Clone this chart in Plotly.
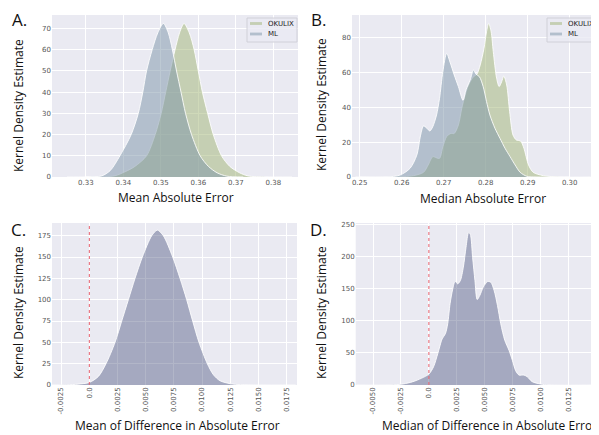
import plotly.graph_objects as go

# ---------------- data ----------------
# Panel A: Mean Absolute Error KDE
a_okulix_x = [0.3300, 0.3350, 0.3378, 0.3405, 0.3431, 0.3462, 0.3485, 0.3501, 0.3513, 0.3525,
              0.3538, 0.3550, 0.3562, 0.3576, 0.3589, 0.3600, 0.3611, 0.3625, 0.3640, 0.3662,
              0.3684, 0.3710, 0.3733, 0.3780, 0.3850]
a_okulix_y = [0.0, 0.1, 0.6, 2.5, 5.0, 10.0, 20.0, 30.0, 40.0, 50.0,
              60.0, 68.0, 72.4, 68.0, 60.0, 50.0, 40.0, 30.0, 20.0, 10.0,
              5.0, 2.0, 0.5, 0.05, 0.0]
a_ml_x = [0.3250, 0.3300, 0.3342, 0.3365, 0.3391, 0.3421, 0.3440, 0.3452, 0.3462, 0.3477,
          0.3492, 0.3507, 0.3520, 0.3531, 0.3542, 0.3554, 0.3566, 0.3582, 0.3605, 0.3627,
          0.3650, 0.3676, 0.3720]
a_ml_y = [0.0, 0.05, 0.5, 3.0, 10.0, 20.0, 30.0, 40.0, 50.0, 60.0,
          68.0, 72.4, 68.0, 60.0, 50.0, 40.0, 30.0, 20.0, 10.0, 5.0,
          2.0, 0.4, 0.0]

# Panel B: Median Absolute Error KDE
b_okulix_x = [0.2500, 0.2580, 0.2628, 0.2652, 0.2663, 0.2674, 0.2682, 0.2690, 0.2698, 0.2707,
              0.2717, 0.2725, 0.2735, 0.2743, 0.2751, 0.2759, 0.2771, 0.2779, 0.2787, 0.2796,
              0.2802, 0.2807, 0.2813, 0.2818, 0.2826, 0.2832, 0.2838, 0.2843, 0.2850, 0.2857,
              0.2865, 0.2873, 0.2883, 0.2891, 0.2902, 0.2913, 0.2937, 0.2977, 0.3050]
b_okulix_y = [0.0, 0.0, 0.8, 2.7, 6.9, 11.7, 11.1, 10.7, 17.4, 23.2,
              25.0, 25.0, 29.9, 39.4, 47.0, 52.8, 57.6, 59.0, 64.3, 73.9,
              83.4, 88.2, 83.4, 72.0, 56.7, 51.9, 54.7, 58.0, 52.8, 37.5,
              24.1, 21.2, 20.7, 16.5, 6.9, 2.7, 0.8, 0.0, 0.0]
b_ml_x = [0.2490, 0.2564, 0.2596, 0.2620, 0.2636, 0.2645, 0.2652, 0.2660, 0.2667, 0.2674,
          0.2683, 0.2690, 0.2698, 0.2707, 0.2715, 0.2725, 0.2735, 0.2746, 0.2753, 0.2763,
          0.2771, 0.2777, 0.2785, 0.2794, 0.2802, 0.2810, 0.2822, 0.2834, 0.2846, 0.2858,
          0.2870, 0.2882, 0.2898, 0.2920, 0.3000]
b_ml_y = [0.0, 0.0, 1.1, 5.0, 12.6, 24.0, 29.3, 28.0, 26.4, 28.9,
          35.6, 45.0, 60.5, 71.0, 66.0, 58.6, 51.9, 44.0, 50.0, 55.7,
          61.4, 59.0, 57.6, 51.9, 43.3, 35.6, 28.0, 22.2, 16.5, 11.7,
          6.9, 2.7, 0.4, 0.0, 0.0]

# Panel C: Mean of Difference in Absolute Error KDE
c_x = [-0.0034, -0.0020, -0.0010, 0.0000, 0.0008, 0.00148, 0.00228, 0.00287, 0.00346, 0.00405,
       0.00470, 0.00553, 0.00603, 0.00656, 0.00739, 0.00804, 0.00863, 0.00916, 0.00972, 0.01046,
       0.01100, 0.01158, 0.01250, 0.01340, 0.01500, 0.01830]
c_y = [0.0, 0.2, 1.0, 3.0, 10.0, 25.0, 50.0, 75.0, 100.0, 125.0,
       150.0, 175.0, 181.6, 175.0, 150.0, 125.0, 100.0, 75.0, 50.0, 25.0,
       12.0, 5.0, 1.5, 0.4, 0.0, 0.0]

# Panel D: Median of Difference in Absolute Error KDE
d_x = [-0.0065, -0.0035, -0.00232, -0.00143, -0.00068, 0.0, 0.00042, 0.00080, 0.00119, 0.00148,
       0.00169, 0.00190, 0.00214, 0.00235, 0.00258, 0.00282, 0.00309, 0.00333, 0.00356, 0.00371,
       0.00392, 0.00413, 0.00433, 0.00457, 0.00487, 0.00526, 0.00555, 0.00585, 0.00615, 0.00644,
       0.00680, 0.00718, 0.00748, 0.00778, 0.00808, 0.00852, 0.00882, 0.00926, 0.01000, 0.01075,
       0.01500]
d_y = [0.0, 0.0, 1.6, 5.2, 10.4, 17.0, 28.5, 49.0, 72.0, 80.0,
       95.8, 127.0, 150.0, 162.0, 158.0, 163.0, 184.0, 215.0, 238.0, 235.5,
       199.0, 163.0, 133.5, 140.0, 152.7, 161.5, 160.5, 147.5, 124.0, 95.8,
       70.0, 54.3, 38.8, 22.3, 15.5, 15.5, 12.9, 5.2, 1.6, 0.0,
       0.0]

zero_reference = 0.0
legend_names = ["OKULIX", "ML"]

# tick labels
a_xticks = [0.33, 0.34, 0.35, 0.36, 0.37, 0.38]
a_xtext = ["0.33", "0.34", "0.35", "0.36", "0.37", "0.38"]
a_yticks = [0, 10, 20, 30, 40, 50, 60, 70]
b_xticks = [0.25, 0.26, 0.27, 0.28, 0.29, 0.30]
b_xtext = ["0.25", "0.26", "0.27", "0.28", "0.29", "0.30"]
b_yticks = [0, 20, 40, 60, 80]
c_xticks = [-0.0025, 0.0, 0.0025, 0.005, 0.0075, 0.01, 0.0125, 0.015, 0.0175]
c_xtext = ["-0.0025", "0.0", "0.0025", "0.0050", "0.0075", "0.0100", "0.0125", "0.0150", "0.0175"]
c_yticks = [0, 25, 50, 75, 100, 125, 150, 175]
d_xticks = [-0.005, -0.0025, 0.0, 0.0025, 0.005, 0.0075, 0.01, 0.0125, 0.015]
d_xtext = ["-0.0050", "-0.0025", "0.0", "0.0025", "0.0050", "0.0075", "0.0100", "0.0125", "0.0150"]
d_yticks = [0, 50, 100, 150, 200, 250]

# ---------------- styling ----------------
PAGE_W, PAGE_H = 599, 435
OFF = 8  # default page body margin of the html page
W, H = PAGE_W - OFF, PAGE_H - OFF
BG = "#EAEAF2"
OK_FILL = "rgba(160,180,116,0.5)"
ML_FILL = "rgba(124,148,168,0.5)"
DIFF_FILL = "rgba(62,72,117,0.4)"
EDGE = "rgba(255,255,255,0.85)"
TICKFONT = dict(family="DejaVu Sans", size=7, color="#555555")


def px_x(p):
    return (p - OFF) / W


def px_y(p):
    return 1 - (p - OFF) / H


fig = go.Figure()

def add_kde(x, y, fill, name, xa, ya):
    fig.add_trace(go.Scatter(
        x=x, y=y, mode="lines", fill="tozeroy", fillcolor=fill,
        line=dict(color=EDGE, width=1, shape="spline", smoothing=0.8),
        name=name, showlegend=False, xaxis=xa, yaxis=ya,
        hoverinfo="skip"))

add_kde(a_okulix_x, a_okulix_y, OK_FILL, legend_names[0], "x", "y")
add_kde(a_ml_x, a_ml_y, ML_FILL, legend_names[1], "x", "y")
add_kde(b_okulix_x, b_okulix_y, OK_FILL, legend_names[0], "x2", "y2")
add_kde(b_ml_x, b_ml_y, ML_FILL, legend_names[1], "x2", "y2")
add_kde(c_x, c_y, DIFF_FILL, "diff", "x3", "y3")
add_kde(d_x, d_y, DIFF_FILL, "diff", "x4", "y4")

# plot area geometry in page pixels
areas = {
    "1": dict(x0=52, x1=298, y0=15, y1=177),
    "2": dict(x0=352, x1=597, y0=15, y1=177),
    "3": dict(x0=52, x1=297, y0=223, y1=385),
    "4": dict(x0=355.7, x1=599, y0=223, y1=385),
}
ranges = {
    "1": ([0.32099, 0.38659], [0, 76.4]),
    "2": ([0.24817, 0.3065], [0, 93.0]),
    "3": ([-0.00331, 0.01841], [0, 189.9]),
    "4": ([-0.00656, 0.01525], [0, 253.0]),
}
xt = {"1": (a_xticks, a_xtext, 0), "2": (b_xticks, b_xtext, 0),
      "3": (c_xticks, c_xtext, -90), "4": (d_xticks, d_xtext, -90)}
yt = {"1": a_yticks, "2": b_yticks, "3": c_yticks, "4": d_yticks}

layout = {}
for k, a in areas.items():
    sx = "" if k == "1" else k
    xr, yr = ranges[k]
    tv, tt, ang = xt[k]
    layout["xaxis" + sx] = dict(
        domain=[px_x(a["x0"]), min(1.0, px_x(a["x1"]))], range=xr,
        anchor="y" + sx, tickvals=tv, ticktext=tt, tickangle=ang,
        showgrid=True, gridcolor="white", gridwidth=1, zeroline=False,
        showline=False, ticks="", tickfont=TICKFONT, automargin=False,
        ticklabeloverflow="allow")
    layout["yaxis" + sx] = dict(
        domain=[px_y(a["y1"]), px_y(a["y0"])], range=yr,
        anchor="x" + sx, tickvals=yt[k],
        showgrid=True, gridcolor="white", gridwidth=1, zeroline=False,
        showline=False, ticks="", tickfont=TICKFONT, automargin=False)

fig.update_layout(**layout)

# red dotted reference lines at zero difference
for sx in ["3", "4"]:
    fig.add_shape(type="line", xref="x" + sx, yref="y" + sx + " domain",
                  x0=zero_reference, x1=zero_reference, y0=0, y1=1,
                  line=dict(color="#e8606e", width=1, dash="dot"))

annotations = []
def ann(text, xp, yp, size=12, angle=0, family="Open Sans", xanchor="center", color="#111111"):
    annotations.append(dict(text=text, x=px_x(xp), y=px_y(yp), xref="paper", yref="paper",
                            showarrow=False, textangle=angle, xanchor=xanchor, yanchor="middle",
                            font=dict(family=family, size=size, color=color)))

ann("A.", 19, 19, size=17)
ann("B.", 318, 19.5, size=17)
ann("C.", 18, 229, size=17)
ann("D.", 318, 229, size=17)
ann("Mean Absolute Error", 176, 197)
ann("Median Absolute Error", 483, 198)
ann("Mean of Difference in Absolute Error", 177, 425)
ann("Median of Difference in Absolute Error", 489, 425)
for xp, yp in [(18, 106), (321, 105), (18, 313), (321, 313)]:
    ann("Kernel Density Estimate", xp, yp, angle=-90)

# compact seaborn-style legends (box, swatches, labels) in panels A and B
for left in [247, 547]:
    fig.add_shape(type="rect", xref="paper", yref="paper",
                  x0=px_x(left), x1=px_x(left + 50), y0=px_y(42), y1=px_y(18),
                  fillcolor="rgba(234,234,242,0.8)", line=dict(color="#d0d0d8", width=1))
    for i, (name, col) in enumerate(zip(legend_names, [OK_FILL, ML_FILL])):
        yc = 23.5 + i * 10.5
        fig.add_shape(type="rect", xref="paper", yref="paper",
                      x0=px_x(left + 3), x1=px_x(left + 15), y0=px_y(yc + 1.4), y1=px_y(yc - 1.4),
                      fillcolor=col, line=dict(width=0))
        ann(name, left + 19, yc, size=7, family="DejaVu Sans", xanchor="left", color="#222222")

fig.update_layout(
    width=W, height=H, margin=dict(l=0, r=0, t=0, b=0),
    paper_bgcolor="white", plot_bgcolor=BG,
    annotations=annotations, showlegend=False,
)

fig.write_html("out.html")
